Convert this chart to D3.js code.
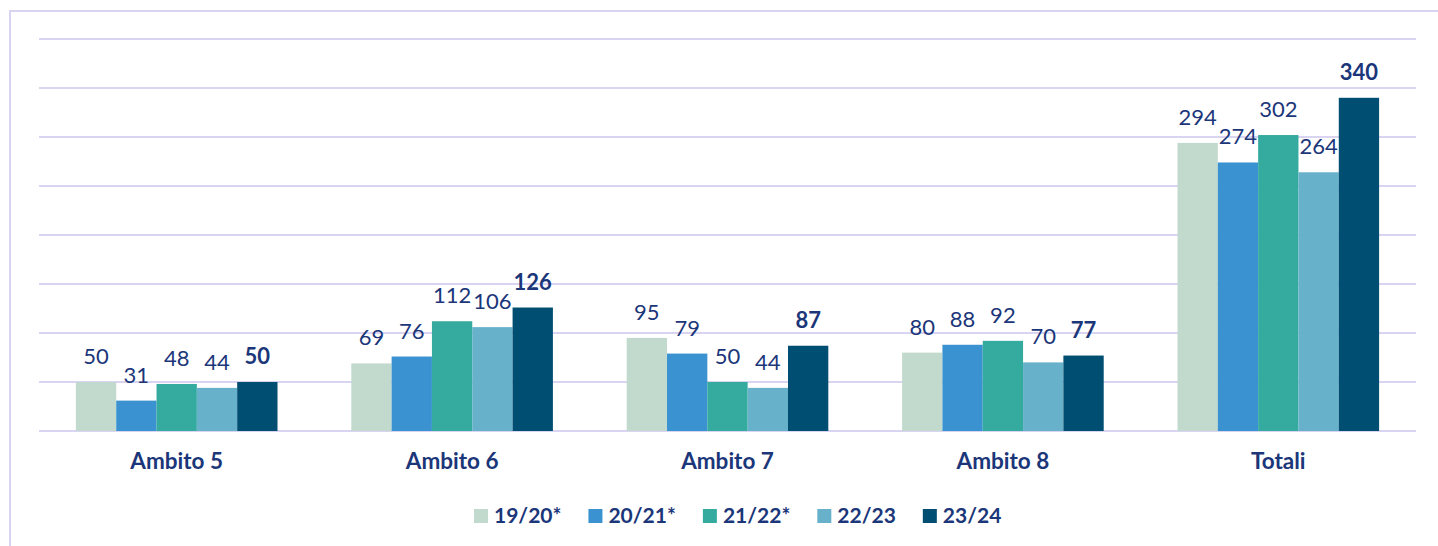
<!DOCTYPE html>
<html>
<head>
<meta charset="utf-8">
<script src="https://cdn.jsdelivr.net/npm/d3@7/dist/d3.min.js"></script>
<style>
  html, body { margin: 0; padding: 0; background: #fff; }
  svg { display: block; font-family: Lato, "Open Sans", sans-serif; }
</style>
</head>
<body>
<svg id="chart" width="1438" height="546"></svg>
<script>
// Categories along the x axis
const categories = ["Ambito 5", "Ambito 6", "Ambito 7", "Ambito 8", "Totali"];
// School years (series)
const seriesNames = ["19/20*", "20/21*", "21/22*", "22/23", "23/24"];
const seriesColors = ["#C2DACD", "#3A93D0", "#35ABA0", "#67B1CA", "#004E72"];
// Values per series, one per category
const s1920 = [50, 69, 95, 80, 294];
const s2021 = [31, 76, 79, 88, 274];
const s2122 = [48, 112, 50, 92, 302];
const s2223 = [44, 106, 44, 70, 264];
const s2324 = [50, 126, 87, 77, 340];
const seriesValues = [s1920, s2021, s2122, s2223, s2324];
// Horizontal gridline values
const gridTicks = [0, 50, 100, 150, 200, 250, 300, 350, 400];

const textColor = "#1B3679";
const gridColor = "#D8D4F1";

const svg = d3.select("#chart");

// Outer frame
svg.append("path")
  .attr("d", "M10,560 L10,11 L1460,11")
  .attr("fill", "none")
  .attr("stroke", gridColor)
  .attr("stroke-width", 2);

const plotLeft = 39, plotRight = 1416, plotTop = 39, plotBottom = 431;

const x0 = d3.scaleBand().domain(categories).range([plotLeft, plotRight]).paddingInner(0).paddingOuter(0);
const x1 = d3.scaleBand().domain(seriesNames).range([0, x0.bandwidth()]).paddingInner(0).paddingOuter(0.915);
const y = d3.scaleLinear().domain([0, 400]).range([plotBottom, plotTop]);

// Gridlines
svg.append("g").selectAll("line").data(gridTicks).join("line")
  .attr("x1", plotLeft).attr("x2", plotRight)
  .attr("y1", d => y(d)).attr("y2", d => y(d))
  .attr("stroke", gridColor).attr("stroke-width", 2);

// Bars and value labels
const groups = svg.append("g").selectAll("g").data(categories).join("g")
  .attr("transform", d => `translate(${x0(d)},0)`);

seriesNames.forEach((name, si) => {
  groups.append("rect")
    .attr("x", x1(name))
    .attr("width", x1.bandwidth())
    .attr("y", (c, ci) => y(seriesValues[si][ci]))
    .attr("height", (c, ci) => plotBottom - y(seriesValues[si][ci]))
    .attr("fill", seriesColors[si]);
  groups.append("text")
    .attr("x", x1(name) + x1.bandwidth() / 2)
    .attr("y", (c, ci) => y(seriesValues[si][ci]) - 18)
    .attr("text-anchor", "middle")
    .attr("fill", textColor)
    .attr("font-size", 22)
    .attr("font-weight", si === 4 ? 700 : 400)
    .text((c, ci) => seriesValues[si][ci]);
});

// Category axis labels
const xAxis = d3.axisBottom(x0).tickSize(0).tickPadding(0);
const ax = svg.append("g").attr("transform", `translate(0,${plotBottom})`).call(xAxis);
ax.select(".domain").remove();
ax.selectAll("text")
  .attr("y", 38)
  .attr("dy", 0)
  .attr("fill", textColor)
  .attr("font-size", 22.5)
  .attr("font-weight", 700)
  .attr("font-family", "Lato, 'Open Sans', sans-serif");

// Legend
const legend = svg.append("g");
let lx = 474;
seriesNames.forEach((name, i) => {
  const g = legend.append("g").attr("transform", `translate(${lx},0)`);
  g.append("rect").attr("x", 0).attr("y", 509).attr("width", 14).attr("height", 14).attr("fill", seriesColors[i]);
  const t = g.append("text").attr("x", 20).attr("y", 523)
    .attr("fill", textColor).attr("font-size", 21).attr("font-weight", 700).text(name);
  lx += 20 + t.node().getComputedTextLength() + 27;
});
</script>
</body>
</html>
